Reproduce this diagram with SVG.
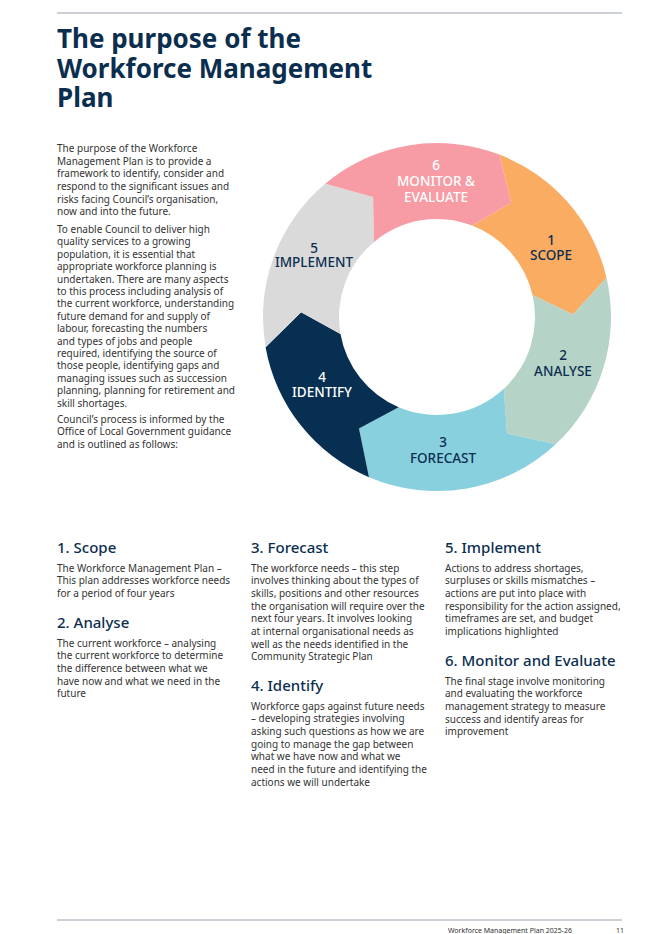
<svg xmlns="http://www.w3.org/2000/svg" width="645" height="934" viewBox="0 0 645 934">
<style>
.t{font-family:"Noto Sans","Liberation Sans",sans-serif;font-size:10px;fill:#333}
.h{font-family:"Noto Sans","Liberation Sans",sans-serif;font-size:15px;fill:#0b2e4f;font-weight:500}
.ttl{font-family:"Noto Sans","Liberation Sans",sans-serif;font-size:26px;fill:#0b2e4f;font-weight:bold}
.lb{font-family:"Noto Sans","Liberation Sans",sans-serif;font-size:13.5px;font-weight:500;text-anchor:middle;fill:#0b2e4f}
.w{fill:#fff}
</style>
<rect width="645" height="934" fill="#fff"/>
<line x1="57" y1="13" x2="622" y2="13" stroke="#7f8c99" stroke-width="0.8"/>
<line x1="57" y1="920" x2="622" y2="920" stroke="#7f8c99" stroke-width="0.8"/>
<text class="ttl" x="57" y="48">The purpose of the</text>
<text class="ttl" x="57" y="78">Workforce Management</text>
<text class="ttl" x="57" y="107">Plan</text>
<text class="t" x="57" y="152">The purpose of the Workforce</text>
<text class="t" x="57" y="165">Management Plan is to provide a</text>
<text class="t" x="57" y="177">framework to identify, consider and</text>
<text class="t" x="57" y="190">respond to the significant issues and</text>
<text class="t" x="57" y="203">risks facing Council’s organisation,</text>
<text class="t" x="57" y="215">now and into the future.</text>
<text class="t" x="57" y="233">To enable Council to deliver high</text>
<text class="t" x="57" y="245.4">quality services to a growing</text>
<text class="t" x="57" y="257.8">population, it is essential that</text>
<text class="t" x="57" y="270.2">appropriate workforce planning is</text>
<text class="t" x="57" y="282.6">undertaken. There are many aspects</text>
<text class="t" x="57" y="295">to this process including analysis of</text>
<text class="t" x="57" y="307.4">the current workforce, understanding</text>
<text class="t" x="57" y="319.8">future demand for and supply of</text>
<text class="t" x="57" y="332.2">labour, forecasting the numbers</text>
<text class="t" x="57" y="344.6">and types of jobs and people</text>
<text class="t" x="57" y="357">required, identifying the source of</text>
<text class="t" x="57" y="369.4">those people, identifying gaps and</text>
<text class="t" x="57" y="381.8">managing issues such as succession</text>
<text class="t" x="57" y="394.2">planning, planning for retirement and</text>
<text class="t" x="57" y="406.6">skill shortages.</text>
<text class="t" x="57" y="423">Council’s process is informed by the</text>
<text class="t" x="57" y="435.4">Office of Local Government guidance</text>
<text class="t" x="57" y="447.8">and is outlined as follows:</text>
<g id="seg1"><path fill="#f9ac62" d="M499.4 154.6 A174 174 0 0 1 606.5 277.8 L573 314.6 L532.5 295 A98 98 0 0 0 472.1 225.5 L511.1 202.9 Z"/>
<text class="lb" x="551" y="245">1</text><text class="lb" x="551" y="260">SCOPE</text></g>
<g id="seg2"><path fill="#b5d3c6" d="M606.5 277.8 A174 174 0 0 1 555.7 444.3 L507 433.6 L503.8 388.7 A98 98 0 0 0 532.5 295 L573 314.6 Z"/>
<text class="lb" x="563" y="360">2</text><text class="lb" x="563" y="376">ANALYSE</text></g>
<g id="seg3"><path fill="#89d0de" d="M555.7 444.3 A174 174 0 0 1 369 477.2 L359 428.4 L398.7 407.2 A98 98 0 0 0 503.8 388.7 L507 433.6 Z"/>
<text class="lb" x="443" y="447">3</text><text class="lb" x="443" y="463">FORECAST</text></g>
<g id="seg4"><path fill="#062f52" d="M369 477.2 A174 174 0 0 1 265.6 347.2 L301.1 312.3 L340.5 334 A98 98 0 0 0 398.7 407.2 L359 428.4 Z"/>
<text class="lb w" x="322" y="382">4</text><text class="lb w" x="322" y="397">IDENTIFY</text></g>
<g id="seg5"><path fill="#dadada" d="M265.6 347.2 A174 174 0 0 1 325.2 183.7 L373.1 196.9 L374 241.9 A98 98 0 0 0 340.5 334 L301.1 312.3 Z"/>
<text class="lb" x="314" y="253">5</text><text class="lb" x="314" y="267">IMPLEMENT</text></g>
<g id="seg6"><path fill="#f79ca4" d="M325.2 183.7 A174 174 0 0 1 499.4 154.6 L511.1 202.9 L472.1 225.5 A98 98 0 0 0 374 241.9 L373.1 196.9 Z"/>
<text class="lb w" x="436" y="170">6</text><text class="lb w" x="436" y="186">MONITOR &amp;</text><text class="lb w" x="436" y="202">EVALUATE</text></g>
<g id="connectors"/>
<text class="h" x="57" y="553">1. Scope</text>
<text class="t" x="57" y="572">The Workforce Management Plan –</text>
<text class="t" x="57" y="584">This plan addresses workforce needs</text>
<text class="t" x="57" y="597">for a period of four years</text>
<text class="h" x="57" y="628">2. Analyse</text>
<text class="t" x="57" y="647">The current workforce – analysing</text>
<text class="t" x="57" y="659">the current workforce to determine</text>
<text class="t" x="57" y="672">the difference between what we</text>
<text class="t" x="57" y="685">have now and what we need in the</text>
<text class="t" x="57" y="697">future</text>
<text class="h" x="251" y="553">3. Forecast</text>
<text class="t" x="251" y="572">The workforce needs – this step</text>
<text class="t" x="251" y="584">involves thinking about the types of</text>
<text class="t" x="251" y="597">skills, positions and other resources</text>
<text class="t" x="251" y="610">the organisation will require over the</text>
<text class="t" x="251" y="622">next four years. It involves looking</text>
<text class="t" x="251" y="635">at internal organisational needs as</text>
<text class="t" x="251" y="648">well as the needs identified in the</text>
<text class="t" x="251" y="660">Community Strategic Plan</text>
<text class="h" x="251" y="691">4. Identify</text>
<text class="t" x="251" y="710">Workforce gaps against future needs</text>
<text class="t" x="251" y="722">– developing strategies involving</text>
<text class="t" x="251" y="735">asking such questions as how we are</text>
<text class="t" x="251" y="748">going to manage the gap between</text>
<text class="t" x="251" y="760">what we have now and what we</text>
<text class="t" x="251" y="773">need in the future and identifying the</text>
<text class="t" x="251" y="786">actions we will undertake</text>
<text class="h" x="445" y="553">5. Implement</text>
<text class="t" x="445" y="572">Actions to address shortages,</text>
<text class="t" x="445" y="584">surpluses or skills mismatches –</text>
<text class="t" x="445" y="597">actions are put into place with</text>
<text class="t" x="445" y="610">responsibility for the action assigned,</text>
<text class="t" x="445" y="622">timeframes are set, and budget</text>
<text class="t" x="445" y="635">implications highlighted</text>
<text class="h" x="445" y="666">6. Monitor and Evaluate</text>
<text class="t" x="445" y="685">The final stage involve monitoring</text>
<text class="t" x="445" y="697">and evaluating the workforce</text>
<text class="t" x="445" y="710">management strategy to measure</text>
<text class="t" x="445" y="723">success and identify areas for</text>
<text class="t" x="445" y="735">improvement</text>
<text class="t" x="448" y="933" style="font-size:7px">Workforce Management Plan 2025-26</text>
<text class="t" x="616" y="933" style="font-size:7px">11</text>
</svg>
